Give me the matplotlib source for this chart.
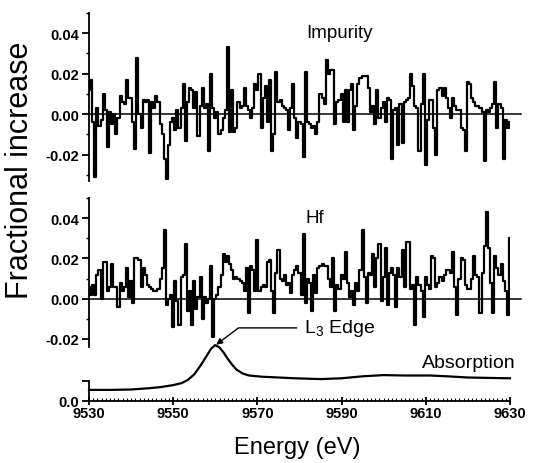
import matplotlib
matplotlib.use('Agg')
import matplotlib.pyplot as plt
from matplotlib.ticker import MultipleLocator, FormatStrFormatter
import numpy as np

plt.rcParams['font.family'] = ['Liberation Sans', 'DejaVu Sans']
plt.rcParams['mathtext.default'] = 'regular'
plt.rcParams['axes.unicode_minus'] = False

# energy grid of the difference spectra (eV), 0.5 eV steps
e_start, e_stop, e_step = 9530.0, 9630.0, 0.5
energy = np.arange(e_start, e_stop + e_step / 2, e_step)

impurity = [
    0.012, 0.017, -0.004, -0.031, 0.003, -0.006, -0.003, 0.010, 0.002, -0.016,
    0.001, -0.005, 0.000, -0.010, -0.002, 0.009, 0.006, 0.005, 0.017, 0.008,
    0.008, -0.004, -0.017, 0.028, 0.000, -0.007, 0.007, 0.006, 0.007, -0.019,
    0.006, 0.003, 0.009, 0.006, -0.005, -0.010, -0.022, -0.032, -0.015, -0.004,
    -0.002, -0.008, 0.002, -0.007, 0.003, 0.015, -0.013, 0.006, 0.013, 0.012,
    0.003, 0.011, -0.011, 0.004, 0.013, 0.003, 0.005, -0.018, 0.020, 0.003,
    -0.002, 0.001, -0.010, -0.008, -0.002, 0.002, 0.033, -0.009,
    0.012, -0.009, -0.007, 0.006, 0.003, 0.004, 0.013, 0.004, 0.002, -0.002,
    0.003, 0.015, 0.012, 0.020, -0.007, 0.008, 0.014, -0.004, 0.017, -0.018,
    -0.010, 0.021, 0.006, 0.007, 0.004, 0.003, 0.002, -0.008, 0.003, 0.015,
    -0.002, -0.012, -0.004, -0.005, -0.021, 0.021, -0.004, -0.005, -0.007, -0.006,
    -0.010, -0.004, 0.010, 0.008, 0.005, 0.027, 0.020, 0.022, 0.022, -0.005,
    0.006, 0.007, 0.010, -0.004, 0.012, -0.004, 0.012, 0.015, -0.008, 0.004,
    0.015, 0.018, 0.019, 0.019, 0.019, 0.013, 0.001,
    0.004, -0.005, 0.012, -0.002, 0.003, 0.006, -0.004, 0.008, 0.007, -0.022,
    0.002, 0.003, -0.015, 0.005, -0.014, 0.006, 0.007, 0.008, 0.020, 0.014,
    0.004, 0.003, -0.018, 0.005, 0.020, -0.025, -0.003, 0.007, 0.007, -0.007,
    -0.020, 0.012, 0.013, 0.009, 0.013, 0.008, 0.003, -0.002, 0.008, 0.004,
    0.002, 0.002, -0.007, -0.008, -0.018, 0.016, 0.015, 0.008, 0.006, 0.004,
    0.004, 0.003, 0.001, -0.023, 0.002, 0.001, 0.003, 0.005, 0.016, -0.007,
    0.005, 0.003, -0.022, -0.003, -0.007, -0.004,
]

hf = [
    0.006, 0.002, 0.007, 0.002, 0.012, 0.014, 0.000, 0.018, 0.018, 0.004,
    0.006, 0.017, 0.006, 0.006, -0.004, 0.008, 0.004, 0.006, 0.015, 0.001,
    0.009, -0.002, 0.020, 0.020, 0.019, 0.006, 0.015, 0.012, 0.007, 0.006,
    0.005, 0.004, 0.004, 0.005, 0.010, 0.015, 0.034, -0.003, 0.000, 0.002,
    -0.014, 0.009, -0.001, -0.013, 0.011, 0.012, 0.027, -0.006, 0.004, -0.013,
    0.009, -0.005, 0.001, 0.011, -0.010, 0.001, -0.002, 0.000, 0.016, -0.019,
    0.000, 0.002, 0.006, 0.012, 0.022, 0.018, 0.021, 0.017,
    0.014, 0.010, 0.011, 0.010, 0.009, 0.008, 0.004, 0.015, -0.007, 0.016,
    0.014, 0.004, 0.029, 0.004, 0.006, 0.007, 0.006, 0.018, 0.019, 0.004,
    -0.007, 0.013, 0.024, 0.010, 0.009, 0.012, 0.007, 0.008, 0.003, 0.012,
    0.014, 0.016, 0.013, 0.002, 0.032, -0.002, 0.010, 0.008, -0.006, 0.012,
    0.003, 0.015, 0.016, 0.017, 0.016, 0.016, 0.010, 0.006, 0.020, -0.006,
    0.007, 0.005, 0.012, 0.010, 0.023, 0.008, 0.001, 0.004, -0.003, 0.008,
    0.004, 0.014, 0.034, 0.011, -0.002, 0.013, 0.012,
    0.022, 0.006, 0.020, 0.027, -0.001, 0.011, 0.025, -0.003, 0.013, 0.015,
    0.012, -0.004, 0.015, 0.011, 0.024, 0.006, 0.028, 0.028, 0.005, 0.007,
    -0.013, 0.011, 0.007, 0.004, -0.009, 0.011, 0.007, 0.005, 0.021, 0.020,
    0.006, 0.008, 0.011, 0.009, 0.012, 0.014, 0.014, 0.013, 0.023, 0.006,
    -0.008, 0.010, 0.020, 0.019, 0.007, 0.005, 0.005, 0.010, 0.021, 0.012,
    0.011, -0.007, 0.013, 0.026, 0.043, 0.025, 0.008, -0.007, 0.021, 0.015,
    0.012, 0.017, 0.009, 0.004, -0.008, 0.030,
]

# absorption spectrum (arb. units)
abs_energy = [9530, 9535, 9540, 9544, 9547, 9550, 9552, 9553.5, 9555, 9556.5,
              9558, 9559, 9560, 9561, 9562, 9563, 9564, 9565, 9566.5, 9568,
              9571, 9575, 9579, 9585, 9590, 9595, 9600, 9605, 9611, 9615,
              9620, 9625, 9630]
absorption = [0.27, 0.27, 0.28, 0.31, 0.34, 0.39, 0.44, 0.52, 0.66, 0.88,
              1.13, 1.30, 1.39, 1.33, 1.20, 1.04, 0.90, 0.78, 0.68, 0.63,
              0.60, 0.58, 0.56, 0.54, 0.56, 0.61, 0.64, 0.63, 0.63, 0.61,
              0.58, 0.57, 0.56]

x_ticks = [9530, 9550, 9570, 9590, 9610, 9630]

W, H = 536, 464
fig = plt.figure(figsize=(W / 100, H / 100), dpi=100)

x0 = 89 / W
xw = (510 - 89) / W


def box(top_px, bot_px):
    return [x0, 1 - bot_px / H, xw, (bot_px - top_px) / H]


lw = 1.6
tick_size = 10.5


def diff_panel(ax, y, label, ylo):
    ax.plot(energy, y, color='black', lw=lw, drawstyle='steps-mid')
    ax.plot([9530, 9632.5], [0, 0], color='black', lw=1.1, clip_on=False)
    ax.set_xlim(9530, 9630)
    ax.set_ylim(ylo, 0.05)
    for s in ['top', 'right', 'bottom']:
        ax.spines[s].set_visible(False)
    ax.spines['left'].set_linewidth(1.3)
    ax.xaxis.set_visible(False)
    ax.yaxis.set_major_locator(MultipleLocator(0.02))
    ax.yaxis.set_minor_locator(MultipleLocator(0.01))
    ax.yaxis.set_major_formatter(FormatStrFormatter('%.2f'))
    ax.tick_params(axis='y', which='major', direction='out', length=5, width=1.3, pad=2)
    ax.tick_params(axis='y', which='minor', direction='out', length=2.5, width=1.0)
    for t in ax.get_yticklabels():
        t.set_fontsize(tick_size)
        t.set_fontweight('bold')
    ax.text(9581.5, 0.0405, label, fontsize=13.5, ha='left', va='center')
    ax.patch.set_visible(False)


ax1 = fig.add_axes(box(14, 182))
diff_panel(ax1, impurity, 'Impurity', -0.033)

ax2 = fig.add_axes(box(199, 348))
diff_panel(ax2, hf, 'Hf', -0.024)

# absorption panel: 0.0 at y=401.7 px, 0.025 units per px
ax3 = fig.add_axes(box(340, 401.7))
ax3.patch.set_visible(False)
ax3.plot(abs_energy, absorption, color='black', lw=1.6, clip_on=False)
ax3.set_xlim(9530, 9630)
ax3.set_ylim(0, (401.7 - 340) * 0.025)
for s in ['top', 'right']:
    ax3.spines[s].set_visible(False)
ax3.spines['left'].set_bounds(0, 0.5)
ax3.spines['left'].set_linewidth(1.3)
ax3.spines['bottom'].set_linewidth(1.3)
ax3.set_yticks([0, 0.5])
ax3.set_yticklabels(['0.0', ''])
ax3.set_xticks(x_ticks)
ax3.set_xticklabels([str(v) for v in x_ticks])
ax3.xaxis.set_minor_locator(MultipleLocator(1))
ax3.tick_params(axis='y', which='major', direction='out', length=5, width=1.3, pad=2)
ax3.tick_params(axis='x', which='major', direction='inout', length=6, width=1.3, pad=1)
ax3.tick_params(axis='x', which='minor', direction='in', length=2.5, width=0.8)
for t in ax3.get_yticklabels() + ax3.get_xticklabels():
    t.set_fontsize(tick_size)
    t.set_fontweight('bold')
ax3.text(9609, 0.95, 'Absorption', fontsize=14, ha='left', va='center')

ax3.annotate('L$_3$ Edge', xy=(9560.2, 1.40), xytext=(9581, 1.82),
             fontsize=14, ha='left', va='center', annotation_clip=False,
             arrowprops=dict(arrowstyle='-|>', color='black', lw=1.0,
                             mutation_scale=9, shrinkA=3, shrinkB=0,
                             connectionstyle='angle,angleA=0,angleB=37,rad=0'))

fig.text(20 / W, 1 - 170 / H, 'Fractional increase', rotation=90,
         fontsize=22, ha='center', va='center')
fig.text(297 / W, 0.035, 'Energy (eV)', fontsize=17, ha='center', va='center')

fig.savefig('out.png', dpi=100)
